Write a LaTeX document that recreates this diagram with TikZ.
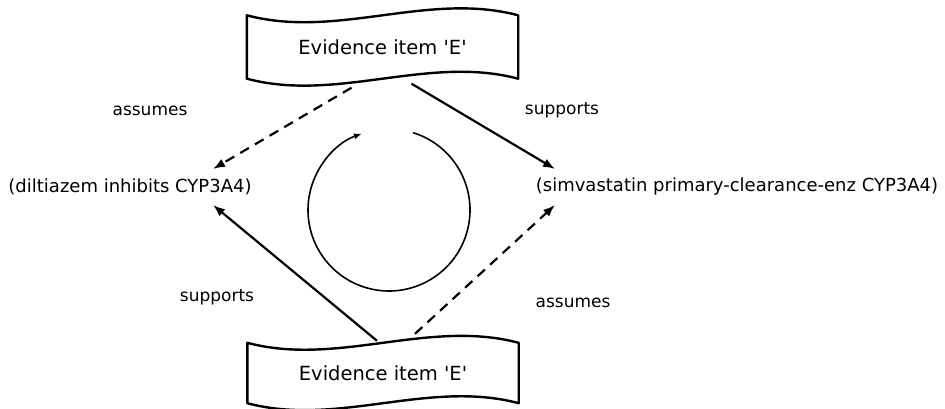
\documentclass[tikz,border=0pt]{standalone}
\usepackage{fontspec}
\setmainfont{DejaVu Sans}
\usetikzlibrary{calc,arrows.meta}
\tikzset{
  evtext/.style={inner sep=0pt, minimum width=271pt, minimum height=63pt, font=\fontsize{19.5}{22}\selectfont},
  stmt/.style={inner sep=0pt, font=\fontsize{18}{21}\selectfont},
  lbl/.style={inner sep=0pt, font=\fontsize{17}{20}\selectfont},
  boxline/.style={line width=2.4pt, line join=round},
  solidarrow/.style={line width=2.2pt, -{Latex[length=12pt,width=9pt]}},
  dasharrow/.style={line width=2.2pt, dash pattern=on 10pt off 7pt, -{Latex[length=12pt,width=9pt]}},
  cyclearrow/.style={line width=1.6pt, -{Latex[length=8pt,width=6pt]}}
}
\newcommand{\wavybox}[1]{%
  \draw[boxline] (#1.north west)
    .. controls ($(#1.north west)!0.333!(#1.north east)+(0,24)$) and ($(#1.north west)!0.667!(#1.north east)+(0,-24)$) .. (#1.north east)
    -- (#1.south east)
    .. controls ($(#1.south west)!0.667!(#1.south east)+(0,-24)$) and ($(#1.south west)!0.333!(#1.south east)+(0,24)$) .. (#1.south west)
    -- cycle;}
\newcommand{\evlabel}{Evidence item \textquotesingle E\textquotesingle}
\begin{document}
\begin{tikzpicture}[x=1pt,y=-1pt]
\useasboundingbox (0,0) rectangle (945,409);
% evidence boxes
\node[evtext] (T) at (382.5,47) {\evlabel};
\node[evtext, minimum height=60pt] (B) at (383,373) {\evlabel};
\wavybox{T}
\wavybox{B}
% statements
\node[stmt] (L) at (130,187) {(diltiazem inhibits CYP3A4)};
\node[stmt] (R) at (737,187) {(simvastatin primary-clearance-enz CYP3A4)};
% connectors
\draw[dasharrow] ($(T.south)+(-31,9)$) -- ($(L.center)+(83,-18)$);
\draw[solidarrow] ($(T.south)+(29,5)$) -- ($(R.center)+(-182,-18)$);
\draw[solidarrow] ($(B.north)+(-6,-2)$) -- ($(L.center)+(83,18)$);
\draw[dasharrow] ($(B.north)+(32,-9)$) -- ($(R.center)+(-182,18)$);
% labels
\node[lbl] (la) at (150,111) {assumes};
\node[lbl] (lb) at (562,110) {supports};
\node[lbl] (lc) at (217,297) {supports};
\node[lbl] (ld) at (573,303) {assumes};
% cycle arrow
\coordinate (C) at (389,210);
\draw[cyclearrow] (C) ++(-72.6:81) arc[start angle=-72.6, end angle=250.5, radius=81];
\end{tikzpicture}
\end{document}
